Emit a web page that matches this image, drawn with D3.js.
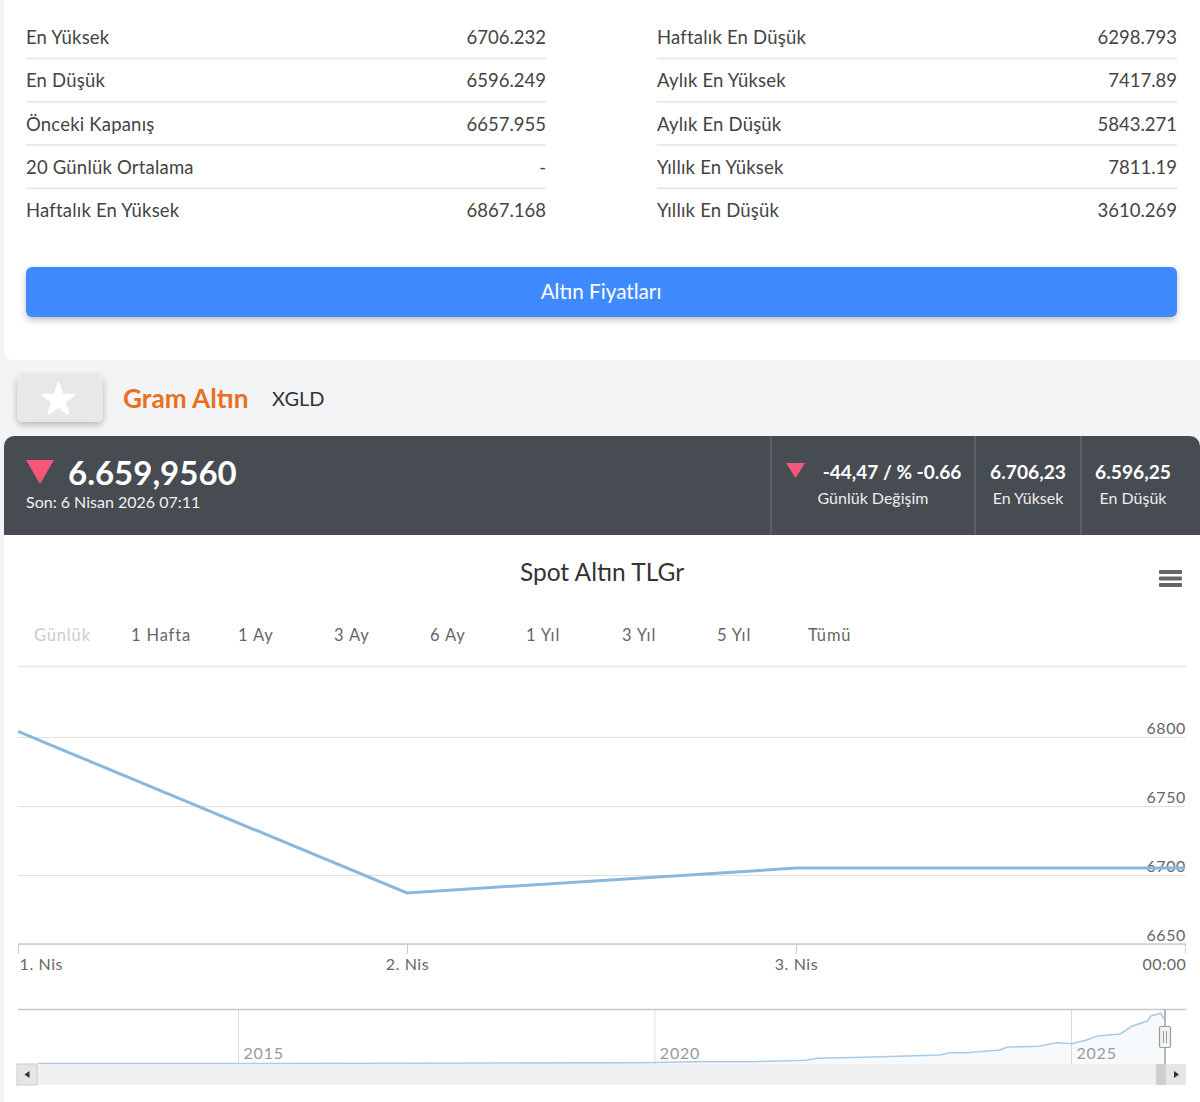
<!DOCTYPE html>
<html lang="tr">
<head>
<meta charset="utf-8">
<script src="https://cdn.jsdelivr.net/npm/d3@7/dist/d3.min.js"></script>
<style>
html,body{margin:0;padding:0;background:#f3f4f6;overflow:hidden}
svg{display:block;font-family:Lato,"Noto Sans",sans-serif}
.axis path{display:none}
</style>
</head>
<body>
<svg id="c" width="1200" height="1102"></svg>
<script>
const statsLeftLabels = ["En Yüksek","En Düşük","Önceki Kapanış","20 Günlük Ortalama","Haftalık En Yüksek"];
const statsLeftValues = ["6706.232","6596.249","6657.955","-","6867.168"];
const statsRightLabels = ["Haftalık En Düşük","Aylık En Yüksek","Aylık En Düşük","Yıllık En Yüksek","Yıllık En Düşük"];
const statsRightValues = ["6298.793","7417.89","5843.271","7811.19","3610.269"];
const rangeLabels = ["Günlük","1 Hafta","1 Ay","3 Ay","6 Ay","1 Yıl","3 Yıl","5 Yıl","Tümü"];
const mainDates = ["2026-04-01","2026-04-02","2026-04-03","2026-04-04"];
const mainValues = [6804,6687,6705,6705];
const mainTickLabels = ["1. Nis","2. Nis","3. Nis","00:00"];
const yTicks = [6650,6700,6750,6800];
const navDates = ["2012-08-07","2015-01-01","2017-01-01","2019-01-01","2019-11-01","2020-07-05","2021-03-05","2021-10-30","2021-12-15","2022-08-15","2023-06-05","2023-07-20","2023-10-01","2024-02-25","2024-03-28","2024-08-15","2024-10-30","2025-01-05","2025-03-10","2025-04-27","2025-08-05","2025-09-27","2025-12-03","2025-12-17","2026-01-30","2026-02-13"];
const navValues = [77,80,110,170,199,352,352,567,873,1072,1379,1731,1731,2145,2600,2712,3263,3110,3677,4290,4596,5822,6588,7354,7767,6895];
const navTicks = [2015,2020,2025];

const svg = d3.select("#c");
const txt = (s,x,y,size,fill,o={}) => svg.append("text").attr("x",x).attr("y",y)
  .attr("font-size",size).attr("fill",fill).attr("dominant-baseline","central")
  .attr("text-anchor",o.a||"start").attr("font-weight",o.w||400)
  .attr("letter-spacing",o.ls||0).text(s);

const defs = svg.append("defs");
const sh = defs.append("filter").attr("id","sh").attr("x","-10%").attr("y","-30%").attr("width","120%").attr("height","170%");
sh.append("feDropShadow").attr("dx",0).attr("dy",3).attr("stdDeviation",3).attr("flood-color","#000").attr("flood-opacity",.25);

// page panels
svg.append("rect").attr("x",4).attr("y",-8).attr("width",1204).attr("height",368).attr("rx",8).attr("fill","#fff");
svg.append("rect").attr("x",4).attr("y",520).attr("width",1196).attr("height",582).attr("fill","#fff");

// stats table
const rowYs = d3.range(5).map(i=>d3.scaleLinear().domain([0,4]).range([37,210])(i));
[[26,546,statsLeftLabels,statsLeftValues],[657,1177,statsRightLabels,statsRightValues]].forEach(([x0,x1,ls,vs])=>{
  ls.forEach((l,i)=>{
    txt(l,x0,rowYs[i],18.5,"#444",{ls:.2});
    txt(vs[i],x1,rowYs[i],18.5,"#444",{a:"end"});
    if(i<4) svg.append("line").attr("x1",x0).attr("x2",x1).attr("y1",rowYs[i]+21.5).attr("y2",rowYs[i]+21.5).attr("stroke","#e4e4e4").attr("stroke-width",1.5);
  });
});
svg.append("rect").attr("x",26).attr("y",267).attr("width",1151).attr("height",50).attr("rx",6).attr("fill","#418aff").attr("filter","url(#sh)");
txt("Altın Fiyatları",601,290.5,20.7,"#fff",{a:"middle"});

// header
svg.append("rect").attr("x",17).attr("y",374).attr("width",86).attr("height",48).attr("rx",6).attr("fill","#e8e8e8").attr("filter","url(#sh)");
svg.append("path").attr("d",d3.symbol(d3.symbolStar,300)()).attr("transform","translate(58.5,400)").attr("fill","#fff").attr("stroke","#fff").attr("stroke-width",2.5).attr("stroke-linejoin","round");
txt("Gram Altın",123,397.5,26.2,"#e8701f",{w:700});
txt("XGLD",272,398,20,"#333");

// dark bar
svg.append("path").attr("d","M4 535V446a10 10 0 0 1 10-10H1190a10 10 0 0 1 10 10V535Z").attr("fill","#474b52");
[771,975,1081].forEach(x=>svg.append("line").attr("x1",x).attr("x2",x).attr("y1",436).attr("y2",535).attr("stroke","#6e7278"));
svg.append("path").attr("d","M26 460H54L40 484Z").attr("fill","#f4577a");
svg.append("path").attr("d","M786 463H805L795.5 478Z").attr("fill","#f4577a");
txt("6.659,9560",68,471.5,33,"#fff",{w:700});
txt("Son: 6 Nisan 2026 07:11",26,501.5,16,"#f2f2f2");
txt("-44,47 / % -0.66",892,471,19,"#fff",{w:700,a:"middle"});
txt("Günlük Değişim",873,497.5,16,"#eee",{a:"middle"});
txt("6.706,23",1028,471,19.2,"#fff",{w:700,a:"middle"});
txt("En Yüksek",1028,497.5,16,"#eee",{a:"middle"});
txt("6.596,25",1133,471,19.2,"#fff",{w:700,a:"middle"});
txt("En Düşük",1133,497.5,16,"#eee",{a:"middle"});

// chart head
txt("Spot Altın TLGr",602,571,24.5,"#333",{a:"middle"});
[572,578.5,585].forEach(y=>svg.append("rect").attr("x",1159).attr("y",y-2).attr("width",23).attr("height",4).attr("rx",1).attr("fill","#666"));
const rangeXs = [34,131,238,334,430,526,622,717,808];
rangeLabels.forEach((l,i)=>txt(l,rangeXs[i],634.5,16.5,i?"#666":"#ccc",{ls:.85}));
svg.append("line").attr("x1",18).attr("x2",1186).attr("y1",666.5).attr("y2",666.5).attr("stroke","#e6e6e6").attr("stroke-width",1.5);

// main chart
const parse = d3.utcParse("%Y-%m-%d");
const x = d3.scaleUtc().domain(d3.extent(mainDates,parse)).range([18,1185]);
const y = d3.scaleLinear().domain([6650,6800]).range([944,737]);
const gy = svg.append("g").attr("class","axis").attr("transform","translate(18,0)")
  .call(d3.axisRight(y).tickValues(yTicks).tickSize(1167).tickFormat(d3.format("d")));
gy.selectAll("line").attr("stroke","#e0e0e0").attr("stroke-width",1.2);
gy.selectAll("text").attr("x",1168).attr("dy",0).attr("y",-10).attr("dominant-baseline","central")
  .attr("text-anchor","end").attr("font-size",16).attr("fill","#666").attr("font-family","Lato").attr("letter-spacing",.6);
const gx = svg.append("g").attr("class","axis").attr("transform","translate(0,944)")
  .call(d3.axisBottom(x).tickValues(mainDates.map(parse)).tickSize(10).tickFormat((d,i)=>mainTickLabels[i]));
gx.selectAll("line").attr("stroke","#ccc");
gx.selectAll("text").attr("y",19.5).attr("dy",0).attr("dominant-baseline","central")
  .attr("font-size",16).attr("fill","#666").attr("font-family","Lato").attr("letter-spacing",.6)
  .attr("text-anchor",(d,i)=>i==0?"start":i==3?"end":"middle").attr("dx",(d,i)=>i==0?1:(i==3?1:0));
svg.append("line").attr("x1",18).attr("x2",1186).attr("y1",944).attr("y2",944).attr("stroke","#ccc").attr("stroke-width",1.3);
const line = d3.line().x((d,i)=>x(parse(mainDates[i]))).y(d=>y(d));
svg.append("path").datum(mainValues).attr("d",line).attr("fill","none").attr("stroke","#8ab8dd").attr("stroke-width",3);

// navigator
const nx = d3.scaleUtc().domain([parse(navDates[0]),parse(navDates[navDates.length-1])]).range([38,1164]);
const ny = d3.scaleLinear().domain([0,7811]).range([1064,1013]);
const navG = svg.append("g").attr("class","axis").attr("transform","translate(0,1064)")
  .call(d3.axisTop(nx).tickValues(navTicks.map(t=>new Date(Date.UTC(t,0,1)))).tickSize(55).tickFormat(d3.utcFormat("%Y")));
navG.selectAll("line").attr("stroke","#dcdcdc");
navG.selectAll("text").attr("y",-11.5).attr("dy",0).attr("x",5).attr("dominant-baseline","central").attr("text-anchor","start")
  .attr("font-size",16).attr("fill","#999").attr("font-family","Lato").attr("letter-spacing",.8);
const nd = navDates.map((d,i)=>[parse(d),navValues[i]]);
svg.append("path").datum(nd).attr("d",d3.area().x(d=>nx(d[0])).y0(1064).y1(d=>ny(d[1]))).attr("fill","#8ab8dd").attr("fill-opacity",.07);
svg.append("path").datum(nd).attr("d",d3.line().x(d=>nx(d[0])).y(d=>ny(d[1]))).attr("fill","none").attr("stroke","#a9cbe5").attr("stroke-width",1.6);
svg.append("line").attr("x1",18).attr("x2",1186).attr("y1",1009.5).attr("y2",1009.5).attr("stroke","#c8c8c8").attr("stroke-width",1.3);

// scrollbar
svg.append("rect").attr("x",17).attr("y",1064).attr("width",1169).attr("height",21).attr("fill","#f0f0f0");
svg.append("rect").attr("x",17).attr("y",1064).attr("width",20).attr("height",21).attr("fill","#e6e6e6").attr("stroke","#ccc");
svg.append("rect").attr("x",1156).attr("y",1064).attr("width",10).attr("height",21).attr("fill","#cfcfcf");
svg.append("rect").attr("x",1166).attr("y",1064).attr("width",20).attr("height",21).attr("fill","#e6e6e6");
svg.append("path").attr("d","M29.5 1071v7l-5-3.5Z").attr("fill","#333");
svg.append("path").attr("d","M1174 1071v7l5-3.5Z").attr("fill","#333");
// handle
svg.append("line").attr("x1",1165).attr("x2",1165).attr("y1",1009).attr("y2",1064).attr("stroke","#b5b5b5").attr("stroke-width",2);
svg.append("rect").attr("x",1159.5).attr("y",1026.5).attr("width",11).attr("height",21).attr("rx",1.5).attr("fill","#f2f2f2").attr("stroke","#999").attr("stroke-width",1.2);
[1163.5,1166.5].forEach(h=>svg.append("line").attr("x1",h).attr("x2",h).attr("y1",1031).attr("y2",1043).attr("stroke","#999"));
</script>
</body>
</html>
